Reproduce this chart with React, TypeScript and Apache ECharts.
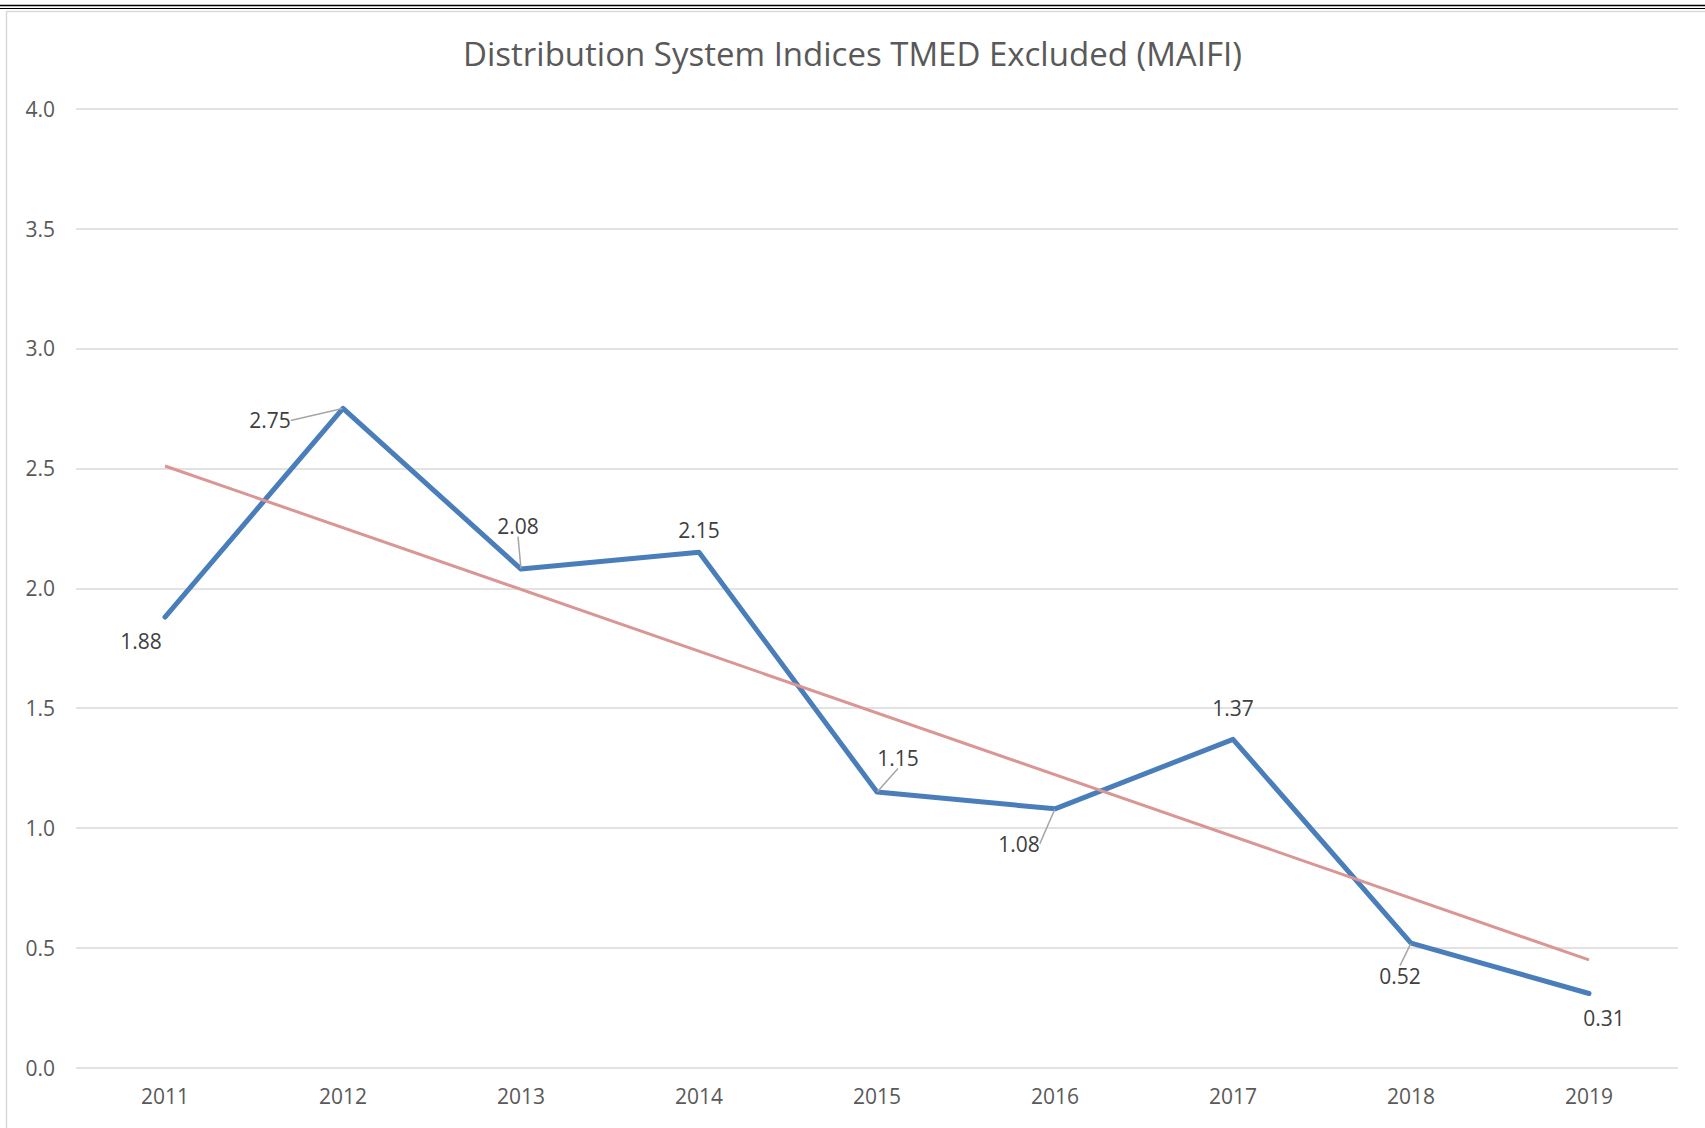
import React, { useEffect, useRef } from "react";
import * as echarts from "echarts";

const years = ["2011", "2012", "2013", "2014", "2015", "2016", "2017", "2018", "2019"];
const maifi = [1.88, 2.75, 2.08, 2.15, 1.15, 1.08, 1.37, 0.52, 0.31];
// trendline endpoints
const trendStart = 2.51;
const trendEnd = 0.45;
const yTicks = { min: 0, max: 4, interval: 0.5 };

// label placement (layout only)
const labelDx = [-24, -73, -3, 0, 21, -36, 0, -11, 15];
const labelDy = [24, 12, -43, -22, -34, 35, -31, 33, 25];
const leader = [false, true, true, false, true, true, false, true, false];

export default function App() {
  const ref = useRef<HTMLDivElement>(null);
  useEffect(() => {
    const chart = echarts.init(ref.current!, undefined, { renderer: "svg" });
    const trendData = years.map((_, i) =>
      i === 0 ? trendStart : i === years.length - 1 ? trendEnd : null
    );
    chart.setOption({
      animation: false,
      backgroundColor: "#ffffff",
      title: {
        text: "Distribution System Indices TMED Excluded (MAIFI)",
        left: "center",
        top: 32,
        textStyle: {
          fontFamily: "Open Sans",
          fontSize: 33,
          fontWeight: "normal",
          color: "#595959",
        },
      },
      graphic: [
        { type: "line", shape: { x1: 0, y1: 5.5, x2: 1705, y2: 5.5 }, style: { stroke: "#000", lineWidth: 1.5 } },
        { type: "line", shape: { x1: 0, y1: 8.5, x2: 1705, y2: 8.5 }, style: { stroke: "#000", lineWidth: 1 } },
        { type: "line", shape: { x1: 6.5, y1: 11, x2: 6.5, y2: 1128 }, style: { stroke: "#d9d9d9", lineWidth: 1.5 } },
        { type: "line", shape: { x1: 6, y1: 11.5, x2: 1705, y2: 11.5 }, style: { stroke: "#d9d9d9", lineWidth: 1.5 } },
      ],
      grid: { left: 76, right: 27, top: 108.7, bottom: 60.2, containLabel: false },
      xAxis: {
        type: "category",
        data: years,
        boundaryGap: true,
        axisLine: { show: false },
        axisTick: { show: false },
        axisLabel: { color: "#595959", fontFamily: "Open Sans", fontSize: 21, margin: 18 },
      },
      yAxis: {
        type: "value",
        min: yTicks.min,
        max: yTicks.max,
        interval: yTicks.interval,
        axisLine: { show: false },
        axisTick: { show: false },
        splitLine: { lineStyle: { color: "#d9d9d9", width: 1.5 } },
        axisLabel: {
          color: "#595959",
          fontFamily: "Open Sans",
          fontSize: 21,
          margin: 21,
          formatter: (v: number) => v.toFixed(1),
        },
      },
      series: [
        {
          type: "line",
          data: maifi.map((v, i) => ({ value: v, labelLine: { show: leader[i] } })),
          symbol: "circle",
          symbolSize: 1,
          showSymbol: true,
          itemStyle: { color: "#4a7ebb" },
          lineStyle: { color: "#4a7ebb", width: 5, join: "round", cap: "round" },
          label: {
            show: true,
            position: "inside",
            color: "#404040",
            fontFamily: "Open Sans",
            fontSize: 21,
            formatter: (p: any) => p.value.toFixed(2),
          },
          labelLine: { show: true, lineStyle: { color: "#a6a6a6", width: 1.5 } },
          labelLayout: (p: any) => ({ dx: labelDx[p.dataIndex], dy: labelDy[p.dataIndex] }),
          z: 2,
        },
        {
          type: "line",
          data: trendData,
          connectNulls: true,
          showSymbol: false,
          symbol: "none",
          lineStyle: { color: "#d99694", width: 3 },
          silent: true,
          z: 3,
        },
      ],
    });
    return () => chart.dispose();
  }, []);
  return (
    <div
      ref={ref}
      style={{ position: "absolute", left: 0, top: 0, width: 1705, height: 1128 }}
    />
  );
}
